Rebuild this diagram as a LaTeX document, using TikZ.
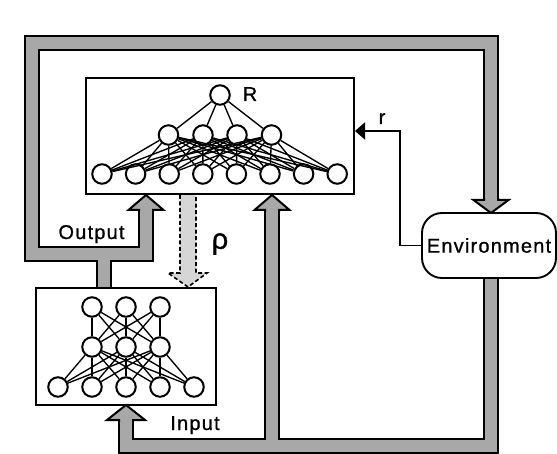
\documentclass[tikz,border=0pt]{standalone}
\usepackage{fontspec}
\setmainfont{Liberation Sans}[LetterSpace=6, FakeBold=0.9]
\usetikzlibrary{arrows.meta}
\definecolor{pipegray}{gray}{0.66}
\definecolor{rhogray}{gray}{0.84}

% block arrow head at the end of a pipe: x, stub y, base y, tip y, half width
\newcommand\blockhead[5]{%
  \filldraw[fill=pipegray, draw=black, line width=2pt, line join=miter]
    ({#1-7},#2) -- ({#1-7},#3) -- ({#1-#5},#3) -- (#1,#4)
    -- ({#1+#5},#3) -- ({#1+7},#3) -- ({#1+7},#2);}

\begin{document}
\begin{tikzpicture}[x=1pt, y=-1pt,
  pipeedge/.style={line width=16pt, black, line join=miter},
  pipecore/.style={line width=12pt, pipegray, line join=miter},
  frame/.style={draw, line width=1.9pt, inner sep=0pt},
  neuron/.style={circle, draw, line width=2pt, fill=white, minimum size=19.5pt, inner sep=0pt},
  link/.style={line width=1.35pt},
  lbl/.style={font=\fontsize{20}{20}\selectfont, inner sep=0pt},
  envbox/.style={draw, line width=1.9pt, rounded corners=20pt, fill=white,
                 minimum width=134pt, minimum height=65pt, inner sep=0pt,
                 font=\fontsize{20}{20}\selectfont}]
\useasboundingbox (0,0) rectangle (557,454);

% pipe end points
\coordinate (actorTop)   at (104,289);
\coordinate (outJoin)    at (104,254);
\coordinate (outBase)    at (146,210);
\coordinate (envBase)    at (491,200);
\coordinate (envBottom)  at (491,278);
\coordinate (inBase)     at (126,420);
\coordinate (fbJoin)     at (272,446);
\coordinate (fbBase)     at (272,210);

% pipe network, outline then fill
\draw[pipeedge] (outBase) -- (146,254) -- (32,254) -- (32,43) -- (491,43) -- (envBase);
\draw[pipeedge] (actorTop) -- (outJoin);
\draw[pipeedge] (envBottom) -- (491,446) -- (126,446) -- (inBase);
\draw[pipeedge] (fbJoin) -- (fbBase);
\draw[pipecore] (outBase) -- (146,254) -- (32,254) -- (32,43) -- (491,43) -- (envBase);
\draw[pipecore] (actorTop) -- (outJoin);
\draw[pipecore] (envBottom) -- (491,446) -- (126,446) -- (inBase);
\draw[pipecore] (fbJoin) -- (fbBase);

% arrow heads
\blockhead{146}{212}{210}{195}{17.5}
\blockhead{272}{212}{210}{195}{17.5}
\blockhead{126}{422}{420}{405}{19}
\blockhead{491}{198}{200}{213}{17.5}

% rho: dashed pipe from critic to actor
\filldraw[fill=rhogray, draw=black, line width=1.6pt, dash pattern=on 4pt off 2.5pt, line join=miter]
  (180,195) -- (180,273) -- (168,273) -- (188,287) -- (207,273) -- (196,273) -- (196,195);

% critic box
\node[frame, minimum width=268pt, minimum height=116pt] (critic) at (220,136) {};
% actor box
\node[frame, minimum width=180pt, minimum height=117pt] (actor) at (126,346.5) {};
% environment
\node[envbox] (env) at (489,245.5) {Environment};

% critic network
\node[neuron] (R) at (220,95) {};
\foreach \k/\x in {1/168.5, 2/203, 3/237, 4/271.5}
  \node[neuron] (h\k) at (\x,135) {};
\foreach \k in {1,...,8}
  \node[neuron] (i\k) at ({102+33.6*(\k-1)},174) {};
\foreach \k in {1,...,4} \draw[link] (R) -- (h\k);
\foreach \k in {1,...,4}
  \foreach \m in {1,...,8} \draw[link] (h\k) -- (i\m);

% actor network
\foreach \k/\x in {1/92, 2/126, 3/160} {
  \node[neuron] (a\k) at (\x,307) {};
  \node[neuron] (b\k) at (\x,347) {};
}
\foreach \k/\x in {1/58, 2/92, 3/126, 4/160, 5/194}
  \node[neuron] (c\k) at (\x,387) {};
\foreach \k in {1,2,3}
  \foreach \m in {1,2,3} \draw[link] (a\k) -- (b\m);
\foreach \k in {1,2,3}
  \foreach \m in {1,...,5} \draw[link] (b\k) -- (c\m);

% reward line
\coordinate (rTurn) at (400,131);
\coordinate (rTip) at (355,131);
\draw[line width=1.7pt, -{Triangle[length=10pt,width=17pt]}] (env.west) -| (rTurn) -- (rTip);

% labels
\node[lbl, anchor=base] (lR) at (250,101) {R};
\node[lbl, anchor=base] (lr) at (382,124) {r};
\node[lbl, anchor=base] (lOut) at (91.5,239) {Output};
\node[lbl, anchor=base] (lIn) at (195,430) {Input};
\node[font=\fontsize{29}{29}\selectfont, inner sep=0pt] (lrho) at (220,244) {ρ};
\end{tikzpicture}
\end{document}
